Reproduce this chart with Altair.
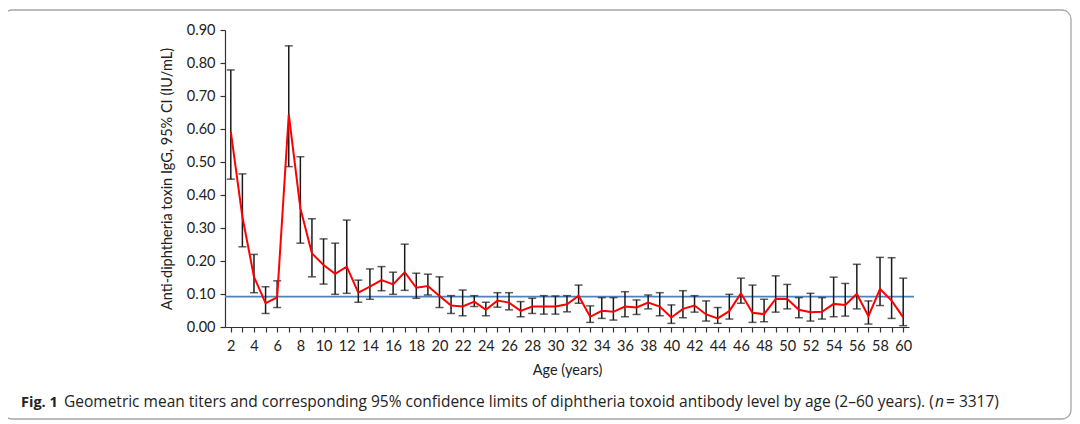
import altair as alt
import pandas as pd

ages = list(range(2, 61))
gmt = [0.592, 0.334, 0.152, 0.072, 0.090, 0.644, 0.360, 0.223, 0.188, 0.161,
       0.183, 0.104, 0.122, 0.142, 0.129, 0.166, 0.119, 0.124, 0.094, 0.065,
       0.062, 0.077, 0.052, 0.080, 0.074, 0.049, 0.062, 0.062, 0.062, 0.069,
       0.095, 0.031, 0.049, 0.046, 0.062, 0.059, 0.074, 0.062, 0.029, 0.055,
       0.065, 0.038, 0.026, 0.048, 0.102, 0.043, 0.039, 0.085, 0.085, 0.052,
       0.045, 0.046, 0.070, 0.067, 0.100, 0.033, 0.115, 0.080, 0.029]
lower = [0.448, 0.243, 0.104, 0.041, 0.059, 0.486, 0.254, 0.152, 0.130, 0.099,
         0.102, 0.075, 0.084, 0.110, 0.099, 0.111, 0.087, 0.097, 0.059, 0.041,
         0.034, 0.062, 0.034, 0.060, 0.052, 0.031, 0.041, 0.039, 0.039, 0.046,
         0.072, 0.014, 0.026, 0.021, 0.031, 0.038, 0.055, 0.034, 0.011, 0.028,
         0.045, 0.018, 0.011, 0.024, 0.072, 0.014, 0.016, 0.045, 0.055, 0.028,
         0.018, 0.024, 0.031, 0.033, 0.055, 0.009, 0.065, 0.026, 0.004]
upper = [0.779, 0.464, 0.220, 0.122, 0.140, 0.852, 0.516, 0.328, 0.267, 0.254,
         0.324, 0.142, 0.176, 0.183, 0.166, 0.251, 0.163, 0.160, 0.152, 0.095,
         0.112, 0.095, 0.075, 0.104, 0.104, 0.077, 0.087, 0.095, 0.094, 0.095,
         0.127, 0.064, 0.089, 0.089, 0.107, 0.082, 0.097, 0.104, 0.067, 0.110,
         0.095, 0.079, 0.059, 0.099, 0.148, 0.127, 0.084, 0.155, 0.129, 0.089,
         0.102, 0.089, 0.151, 0.132, 0.190, 0.079, 0.211, 0.210, 0.148]
threshold = [0.092]

y_ticks = [0.0, 0.1, 0.2, 0.3, 0.4, 0.5, 0.6, 0.7, 0.8, 0.9]
x_ticks = ages

caption_bold = "Fig. 1"
caption_main = ("Geometric mean titers and corresponding 95% confidence limits of "
                "diphtheria toxoid antibody level by age (2\u201360 years). (")
caption_italic = "n"
caption_end = "= 3317)"

df = pd.DataFrame({"age": ages, "gmt": gmt, "lo": lower, "hi": upper})
one = pd.DataFrame({"k": [0]})

W, H = 684, 297
AX = "Lato"

xs = alt.Scale(domain=[1.5, 60.5], nice=False, zero=False)
ys = alt.Scale(domain=[0, 0.9], nice=False)

x_axis = alt.Axis(values=x_ticks, title="Age (years)", grid=False,
                  labelExpr="datum.value % 2 == 0 ? datum.label : ''",
                  tickSize=5, labelPadding=7, titlePadding=11,
                  labelFlush=False, labelOverlap=False, labelBound=False)
y_axis = alt.Axis(values=y_ticks, format=".2f", grid=False,
                  title="Anti-diphtheria toxin IgG, 95% CI (IU/mL)",
                  tickSize=5, labelPadding=5, titlePadding=12,
                  labelOverlap=False, labelFlush=False, labelBound=False)

def X(f):
    return alt.X(f, type="quantitative", scale=xs, axis=x_axis)

def Y(f):
    return alt.Y(f, type="quantitative", scale=ys, axis=y_axis)

base = alt.Chart(df)

err = base.mark_rule(color="#1a1a1a", strokeWidth=1.5).encode(
    x=X("age"), y=Y("lo"), y2="hi:Q")
cap_lo = base.mark_tick(color="#1a1a1a", orient="horizontal", size=8, thickness=1.5).encode(
    x=X("age"), y=Y("lo"))
cap_hi = base.mark_tick(color="#1a1a1a", orient="horizontal", size=8, thickness=1.5).encode(
    x=X("age"), y=Y("hi"))

line = base.mark_line(color="#ff0000", strokeWidth=2).encode(x=X("age"), y=Y("gmt"))

thr = alt.Chart(pd.DataFrame({"t": threshold})).mark_rule(
    color="#4f81bd", strokeWidth=1.6).encode(
    y=Y("t"), x=alt.value(0), x2=alt.value(W + 5))

border = alt.Chart(one).mark_rect(
    fillOpacity=0, stroke="#a6a6a6", strokeWidth=1.3, cornerRadius=9).encode(
    x=alt.value(3 - 225), x2=alt.value(1071 - 225),
    y=alt.value(10 - 30), y2=alt.value(419 - 30))

cap_font = "Open Sans"
cap_size = 15.5
cap_y = 407 - 30
t1 = alt.Chart(one).mark_text(font=cap_font, fontSize=14.5, fontWeight="bold",
                              align="left", baseline="alphabetic", color="#222").encode(
    x=alt.value(21 - 225), y=alt.value(cap_y), text=alt.value(caption_bold))
t2 = alt.Chart(one).mark_text(font=cap_font, fontSize=cap_size, align="left",
                              baseline="alphabetic", color="#222").encode(
    x=alt.value(64 - 225), y=alt.value(cap_y), text=alt.value(caption_main))
t3 = alt.Chart(one).mark_text(font=cap_font, fontSize=cap_size, fontStyle="italic", align="left",
                              baseline="alphabetic", color="#222").encode(
    x=alt.value(935 - 225), y=alt.value(cap_y), text=alt.value(caption_italic))
t4 = alt.Chart(one).mark_text(font=cap_font, fontSize=cap_size, align="left",
                              baseline="alphabetic", color="#222").encode(
    x=alt.value(946 - 225), y=alt.value(cap_y), text=alt.value(caption_end))

chart = alt.layer(border, thr, err, cap_lo, cap_hi, line, t1, t2, t3, t4).properties(
    width=W, height=H,
    autosize=alt.AutoSizeParams(type="none"),
    padding={"left": 217, "top": 22, "right": 1064 - 217 - W, "bottom": 416 - 22 - H},
).configure_view(strokeWidth=0).configure_axis(
    labelFont=AX, titleFont=AX, labelFontSize=14.5, titleFontSize=14.5,
    titleFontWeight="normal", labelColor="#222", titleColor="#222",
    domainColor="#333", tickColor="#333", domainWidth=1.2, tickWidth=1.2)

chart.save("out.html", embed_options={"renderer": "svg", "actions": False})
